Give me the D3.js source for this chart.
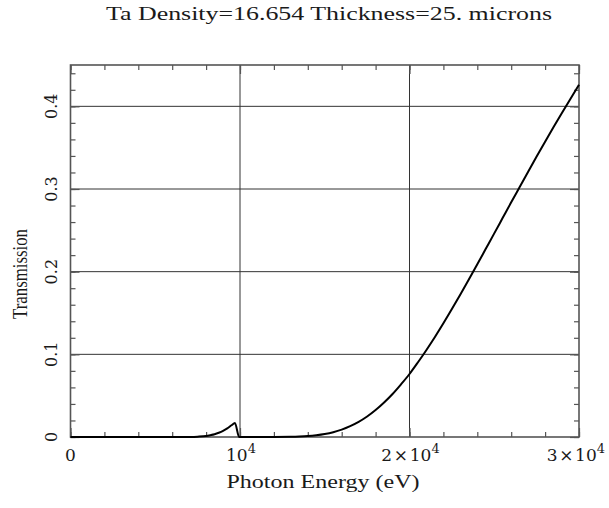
<!DOCTYPE html>
<html><head><meta charset="utf-8">
<script src="https://cdn.jsdelivr.net/npm/d3@7"></script>
<style>
body{margin:0;background:#fff;}
text{font-family:"Liberation Serif","DejaVu Serif",serif;fill:#1a1a1a;}
text.tk{font-family:"DejaVu Serif",serif;}
</style></head>
<body><svg id="c" width="609" height="508"></svg>
<script>
const title = "Ta Density=16.654 Thickness=25. microns";
const xLabel = "Photon Energy (eV)";
const yLabel = "Transmission";
const energy = [0,1000,2000,3000,4000,5000,6000,6500,7000,7500,8000,8250,8500,8750,9000,9250,9500,9700,9950,10500,11000,12000,13000,13500,14000,14500,15000,15500,16000,16500,17000,17500,18000,18500,19000,19500,20000,20500,21000,21500,22000,22500,23000,23500,24000,24500,25000,25500,26000,26500,27000,27500,28000,28500,29000,29500,30000];
const transmission = [0,0,0,0,0,0,0,0.00002,0.0001,0.0004,0.0012,0.0022,0.0034,0.0052,0.0075,0.0105,0.0142,0.0168,0.0000,0,0,0.00003,0.00025,0.00056,0.0011,0.0021,0.0036,0.0058,0.0089,0.0131,0.0183,0.0248,0.0326,0.0417,0.0520,0.0637,0.0762,0.0904,0.1053,0.1210,0.1375,0.1547,0.1724,0.1905,0.2089,0.2276,0.2463,0.2651,0.2839,0.3024,0.3209,0.3392,0.3572,0.3749,0.3923,0.4093,0.426];
const xMajor = [0,10000,20000,30000];
const xTickLabels = [["0",""],["10","4"],["2\u200a\u00d7\u200a10","4"],["3\u200a\u00d7\u200a10","4"]];
const yMajor = [0,0.1,0.2,0.3,0.4];
const yTickLabels = ["0","0.1","0.2","0.3","0.4"];
const xGrid = [10000,20000];
const yGrid = [0.1,0.2,0.3,0.4];

const svg = d3.select("#c");
const L=70.5,R=579,T=65,B=437;
const x = d3.scaleLinear().domain([0,30000]).range([L,R]);
const y = d3.scaleLinear().domain([0,0.45]).range([B,T]);
const frameCol="#555";

svg.selectAll(".gx").data(xGrid).join("line")
  .attr("x1",d=>x(d)).attr("x2",d=>x(d)).attr("y1",T).attr("y2",B)
  .attr("stroke","#333").attr("stroke-width",1);
svg.selectAll(".gy").data(yGrid).join("line")
  .attr("y1",d=>y(d)).attr("y2",d=>y(d)).attr("x1",L).attr("x2",R)
  .attr("stroke","#333").attr("stroke-width",1);

const minorX = d3.range(0,30001,2000);
const minorY = d3.range(0,0.4501,0.02);
function ax(gen, tr){ const g=svg.append("g").attr("transform",tr).call(gen); g.selectAll("text").remove(); g.select(".domain").remove(); g.selectAll("line").attr("stroke",frameCol).attr("stroke-width",1.2); return g;}
ax(d3.axisBottom(x).tickValues(minorX).tickSize(-5).tickFormat(""),`translate(0,${B})`);
ax(d3.axisTop(x).tickValues(minorX).tickSize(-5).tickFormat(""),`translate(0,${T})`);
ax(d3.axisLeft(y).tickValues(minorY).tickSize(-5).tickFormat(""),`translate(${L},0)`);
ax(d3.axisRight(y).tickValues(minorY).tickSize(-5).tickFormat(""),`translate(${R},0)`);
ax(d3.axisBottom(x).tickValues(xMajor).tickSize(-9).tickFormat(""),`translate(0,${B})`);
ax(d3.axisTop(x).tickValues(xMajor).tickSize(-9).tickFormat(""),`translate(0,${T})`);
ax(d3.axisLeft(y).tickValues(yMajor).tickSize(-9).tickFormat(""),`translate(${L},0)`);
ax(d3.axisRight(y).tickValues(yMajor).tickSize(-9).tickFormat(""),`translate(${R},0)`);

svg.append("rect").attr("x",L).attr("y",T).attr("width",R-L).attr("height",B-T)
  .attr("fill","none").attr("stroke",frameCol).attr("stroke-width",1.6);

const line = d3.line().x((d,i)=>x(energy[i])).y(d=>y(d)).curve(d3.curveMonotoneX);
svg.append("path").datum(transmission).attr("d",line)
  .attr("fill","none").attr("stroke","#000").attr("stroke-width",2);

xMajor.forEach((v,i)=>{
  const [base,sup]=xTickLabels[i];
  const t=svg.append("text").attr("class","tk").attr("y",B+24).attr("font-size",17);
  t.append("tspan").text(base);
  if(sup){ t.append("tspan").attr("dy",-8).attr("font-size",13).text(sup); }
  const w=t.node().getComputedTextLength();
  const x0=Math.min(x(v)-w/2+(sup?1:0), 605-w);
  t.attr("x",x0);
});
yMajor.forEach((v,i)=>{
  svg.append("text").attr("class","tk").attr("transform",`translate(57,${y(v)}) rotate(-90)`)
    .attr("text-anchor","middle").attr("font-size",16).text(yTickLabels[i]);
});
svg.append("text").attr("x",323).attr("y",488).attr("text-anchor","middle")
  .attr("font-size",19).attr("textLength",193).attr("lengthAdjust","spacingAndGlyphs").text(xLabel);
svg.append("text").attr("transform",`translate(27,274) rotate(-90)`).attr("text-anchor","middle")
  .attr("font-size",20).attr("textLength",90).attr("lengthAdjust","spacingAndGlyphs").text(yLabel);
svg.append("text").attr("x",329).attr("y",20).attr("text-anchor","middle")
  .attr("font-size",18).attr("textLength",446).attr("lengthAdjust","spacingAndGlyphs").text(title);
</script></body></html>
